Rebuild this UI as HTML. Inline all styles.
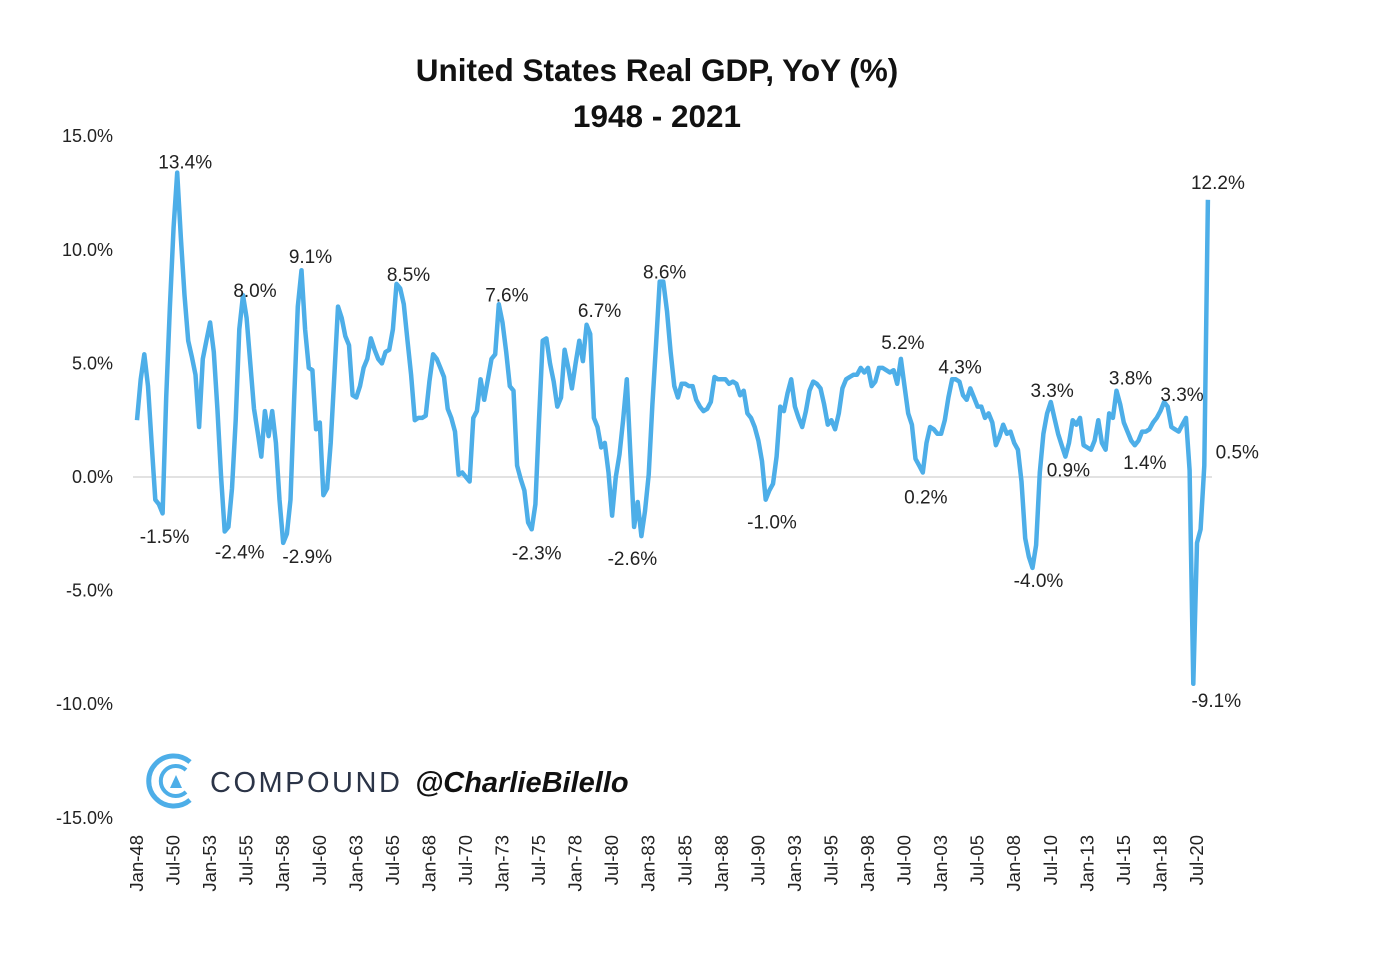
<!DOCTYPE html>
<html><head><meta charset="utf-8"><style>
html,body{margin:0;padding:0;background:#fff;}
svg{display:block;font-family:"Liberation Sans",sans-serif;}
</style></head><body>
<svg id="chart" width="1378" height="958" viewBox="0 0 1378 958" xmlns="http://www.w3.org/2000/svg">
<rect width="1378" height="958" fill="#fff"/>
<text x="657" y="81" text-anchor="middle" font-size="31.5" font-weight="bold" fill="#111">United States Real GDP, YoY (%)</text>
<text x="657" y="127" text-anchor="middle" font-size="31.5" font-weight="bold" fill="#111">1948 - 2021</text>
<g id="yaxis"></g>
<g id="xaxis"></g>
<line x1="133" x2="1212" y1="477" y2="477" stroke="#d9d9d9" stroke-width="1.5"/>
<g id="series"></g>
<g id="labels"></g>
<g>
<path d="M190 762 A25 25 0 1 0 190 800" fill="none" stroke="#4daee8" stroke-width="5"/>
<path d="M186 770 A15 15 0 1 0 186 792" fill="none" stroke="#4daee8" stroke-width="4"/>
<polygon points="170,788 176,775 182,788" fill="#4daee8"/>
<text x="210" y="792" font-size="29" fill="#2b3447" letter-spacing="2.5">COMPOUND</text>
<text x="415" y="792" font-size="29" font-weight="bold" font-style="italic" fill="#111">@CharlieBilello</text>
</g>
</svg>
<script>
const yTicks = [15, 10, 5, 0, -5, -10, -15];
const xTickLabels = ["Jan-48","Jul-50","Jan-53","Jul-55","Jan-58","Jul-60","Jan-63","Jul-65","Jan-68","Jul-70","Jan-73","Jul-75","Jan-78","Jul-80","Jan-83","Jul-85","Jan-88","Jul-90","Jan-93","Jul-95","Jan-98","Jul-00","Jan-03","Jul-05","Jan-08","Jul-10","Jan-13","Jul-15","Jan-18","Jul-20"];
const startYear = 1948;
const gdpYoY = [
2.5,4.3,5.4,4.0, 1.5,-1.0,-1.2,-1.6, 3.5,7.5,11.0,13.4, 10.5,8.0,6.0,5.3,
4.5,2.2,5.2,6.0, 6.8,5.5,3.0,0.0, -2.4,-2.2,-0.5,2.5, 6.5,8.0,7.0,5.0,
3.0,2.0,0.9,2.9, 1.8,2.9,1.5,-1.0, -2.9,-2.5,-1.0,3.5, 7.5,9.1,6.5,4.8,
4.7,2.1,2.4,-0.8, -0.5,1.5,4.5,7.5, 7.0,6.2,5.8,3.6, 3.5,4.0,4.8,5.2,
6.1,5.6,5.2,5.0, 5.5,5.6,6.5,8.5, 8.3,7.6,6.0,4.5, 2.5,2.6,2.6,2.7,
4.2,5.4,5.2,4.8, 4.4,3.0,2.6,2.0, 0.1,0.2,0.0,-0.2, 2.6,2.9,4.3,3.4,
4.3,5.2,5.4,7.6, 6.8,5.5,4.0,3.8, 0.5,-0.1,-0.6,-2.0, -2.3,-1.2,2.5,6.0,
6.1,5.0,4.2,3.1, 3.5,5.6,4.8,3.9, 5.0,6.0,5.1,6.7, 6.3,2.6,2.2,1.3,
1.5,0.2,-1.7,0.0, 1.0,2.5,4.3,1.0, -2.2,-1.1,-2.6,-1.5, 0.1,3.2,5.8,8.6,
8.6,7.3,5.5,4.0, 3.5,4.1,4.1,4.0, 4.0,3.4,3.1,2.9, 3.0,3.3,4.4,4.3,
4.3,4.3,4.1,4.2, 4.1,3.6,3.8,2.8, 2.6,2.2,1.6,0.7, -1.0,-0.6,-0.3,0.9,
3.1,2.9,3.7,4.3, 3.1,2.6,2.2,2.9, 3.8,4.2,4.1,3.9, 3.2,2.3,2.5,2.1,
2.8,3.9,4.3,4.4, 4.5,4.5,4.8,4.6, 4.8,4.0,4.2,4.8, 4.8,4.7,4.6,4.7,
4.1,5.2,4.0,2.8, 2.3,0.8,0.5,0.2, 1.5,2.2,2.1,1.9, 1.9,2.5,3.5,4.3,
4.3,4.2,3.6,3.4, 3.9,3.5,3.1,3.1, 2.6,2.8,2.4,1.4, 1.8,2.3,1.9,2.0,
1.5,1.2,-0.2,-2.7, -3.5,-4.0,-3.0,0.2, 1.9,2.8,3.3,2.6, 1.9,1.4,0.9,1.5,
2.5,2.3,2.6,1.4, 1.3,1.2,1.6,2.5, 1.5,1.2,2.8,2.6, 3.8,3.2,2.4,2.0,
1.6,1.4,1.6,2.0, 2.0,2.1,2.4,2.6, 2.9,3.3,3.1,2.2, 2.1,2.0,2.3,2.6,
0.3,-9.1,-2.9,-2.3, 0.5,12.2
];
const annotIndex = [11,7,29,24,40,45,71,99,108,123,138,143,171,209,215,223,249,254,245,268,273,281,293,292,289];
const annotText = ["13.4%","-1.5%","8.0%","-2.4%","-2.9%","9.1%","8.5%","7.6%","-2.3%","6.7%","-2.6%","8.6%","-1.0%","5.2%","0.2%","4.3%","3.3%","0.9%","-4.0%","3.8%","1.4%","3.3%","12.2%","0.5%","-9.1%"];
const annotValue = [13.4,-1.5,8.0,-2.4,-2.9,9.1,8.5,7.6,-2.3,6.7,-2.6,8.6,-1.0,5.2,0.2,4.3,3.3,0.9,-4.0,3.8,1.4,3.3,12.2,0.5,-9.1];

const NS = "http://www.w3.org/2000/svg";
const x0 = 137, pxPerQuarter = 3.655;
function xq(i){ return x0 + i*pxPerQuarter; }
function y(v){ return 477 - v*22.72; }

const yaxis = document.getElementById('yaxis');
yTicks.forEach(t=>{
  const e = document.createElementNS(NS,'text');
  
  
  e.setAttribute('x',113); e.setAttribute('y',y(t)+6);
  e.setAttribute('text-anchor','end'); e.setAttribute('font-size','18'); e.setAttribute('fill','#222');
  e.textContent = t.toFixed(1)+'%';
  yaxis.appendChild(e);
});
const xaxis = document.getElementById('xaxis');
xTickLabels.forEach((l,k)=>{
  const e = document.createElementNS(NS,'text');
  
  
  const cx = xq(k*10) + 6;
  e.setAttribute('transform','translate('+cx+',835) rotate(-90)');
  e.setAttribute('text-anchor','end'); e.setAttribute('font-size','18.5'); e.setAttribute('fill','#222');
  e.textContent = l;
  xaxis.appendChild(e);
});
const series = document.getElementById('series');
const pts = gdpYoY.map((v,i)=>xq(i).toFixed(1)+','+y(v).toFixed(1)).join(' ');
const pl = document.createElementNS(NS,'polyline');


pl.setAttribute('points',pts); pl.setAttribute('fill','none');
pl.setAttribute('stroke','#4daee8'); pl.setAttribute('stroke-width','4.5');
pl.setAttribute('stroke-linejoin','round');
series.appendChild(pl);
const labels = document.getElementById('labels');
const offs = [[8,-11],[2,25],[12,-5],[15,20],[24,13],[9,-14],[12,-10],[8,-10],[5,23],[13,-15],[-9,22],[5,-10],[10,22],[2,-17],[3,24],[8,-13],[5,-12],[3,13],[6,12],[14,-13],[10,17],[18,-8],[10,-18],[33,-14],[23,16]];
annotIndex.forEach((i,k)=>{
  const e = document.createElementNS(NS,'text');
  
  
  e.setAttribute('x',xq(i)+offs[k][0]);
  e.setAttribute('y',y(annotValue[k])+offs[k][1]+7);
  e.setAttribute('text-anchor','middle'); e.setAttribute('font-size','19'); e.setAttribute('fill','#222');
  e.textContent = annotText[k];
  labels.appendChild(e);
});
</script>
</body></html>
